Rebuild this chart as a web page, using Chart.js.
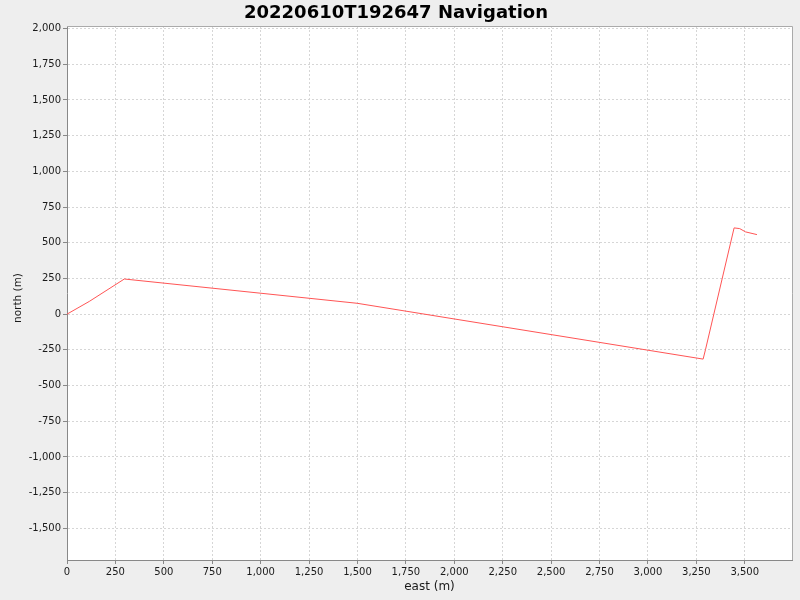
<!DOCTYPE html>
<html>
<head>
<meta charset="utf-8">
<script src="https://cdn.jsdelivr.net/npm/chart.js@4/dist/chart.umd.min.js"></script>
<style>
  html, body { margin: 0; padding: 0; background: #eeeeee; }
  canvas { display: block; }
</style>
</head>
<body>
<canvas id="chart" width="800" height="600"></canvas>
<script>
// track points (metres)
const east = [0, 115, 296, 1498, 3285, 3297, 3445, 3474, 3504, 3563];
const north = [0, 89, 246, 76, -315, -250, 604, 599, 576, 557];

const xTicks = [0, 250, 500, 750, 1000, 1250, 1500, 1750, 2000, 2250, 2500, 2750, 3000, 3250, 3500];
const yTicks = [-1500, -1250, -1000, -750, -500, -250, 0, 250, 500, 750, 1000, 1250, 1500, 1750, 2000];

const fontFamily = "'DejaVu Sans', sans-serif";

// white plot area + thin outline, like the reference
const plotBackground = {
  id: "plotBackground",
  beforeDraw(chart) {
    const { ctx, chartArea: a } = chart;
    ctx.save();
    ctx.fillStyle = "#ffffff";
    ctx.fillRect(a.left, a.top, a.right - a.left, a.bottom - a.top);
    ctx.restore();
  },
  afterDraw(chart) {
    const { ctx, chartArea: a } = chart;
    ctx.save();
    ctx.strokeStyle = "#aaaaaa";
    ctx.lineWidth = 1;
    ctx.beginPath();
    ctx.moveTo(a.left, a.top + 0.5);
    ctx.lineTo(a.right + 0.5, a.top + 0.5);
    ctx.lineTo(a.right + 0.5, a.bottom);
    ctx.stroke();
    ctx.restore();
  }
};

function axisOpts(ticks, min, max) {
  return {
    type: "linear",
    min: min,
    max: max,
    afterBuildTicks: (scale) => {
      scale.ticks = ticks.map(v => ({ value: v }));
    },
    grid: {
      color: "#d6d6d6",
      lineWidth: 1,
      tickColor: "#888888",
      tickLength: 4,
      tickBorderDash: []
    },
    border: { display: true, color: "#888888", width: 1, dash: [2, 2] },
    ticks: {
      autoSkip: false,
      maxRotation: 0,
      padding: 2,
      color: "#1a1a1a",
      font: { family: fontFamily, size: 10 },
      callback: (v) => Number(v).toLocaleString("en-US")
    }
  };
}

const xAxis = axisOpts(xTicks, 0, 3744);
xAxis.position = "bottom";
xAxis.title = {
  display: true,
  text: "east (m)",
  color: "#1a1a1a",
  font: { family: fontFamily, size: 12 },
  padding: 5.8
};
xAxis.afterFit = (scale) => { scale.height = 40; };

const yAxis = axisOpts(yTicks, -1722, 2018);
yAxis.position = "left";
yAxis.title = {
  display: true,
  // trailing spaces nudge the rotated label down a little, as in the reference
  text: "north (m)   ",
  color: "#1a1a1a",
  font: { family: fontFamily, size: 10.5 },
  padding: 12
};
yAxis.afterFit = (scale) => { scale.width = 67; };

new Chart(document.getElementById("chart"), {
  type: "scatter",
  data: {
    datasets: [{
      label: "Navigation",
      data: east.map((x, i) => ({ x: x, y: north[i] })),
      showLine: true,
      borderColor: "#ff5555",
      borderWidth: 1,
      pointRadius: 0,
      pointHoverRadius: 0,
      tension: 0,
      fill: false
    }]
  },
  options: {
    responsive: false,
    animation: false,
    layout: { padding: { left: 0, right: 8, top: 0, bottom: 0 } },
    plugins: {
      legend: { display: false },
      tooltip: { enabled: false },
      title: {
        display: true,
        text: "20220610T192647 Navigation",
        color: "#000000",
        font: { family: fontFamily, size: 18, weight: "bold" },
        padding: { top: 3, bottom: 1.4 }
      }
    },
    scales: { x: xAxis, y: yAxis }
  },
  plugins: [plotBackground]
});
</script>
</body>
</html>
